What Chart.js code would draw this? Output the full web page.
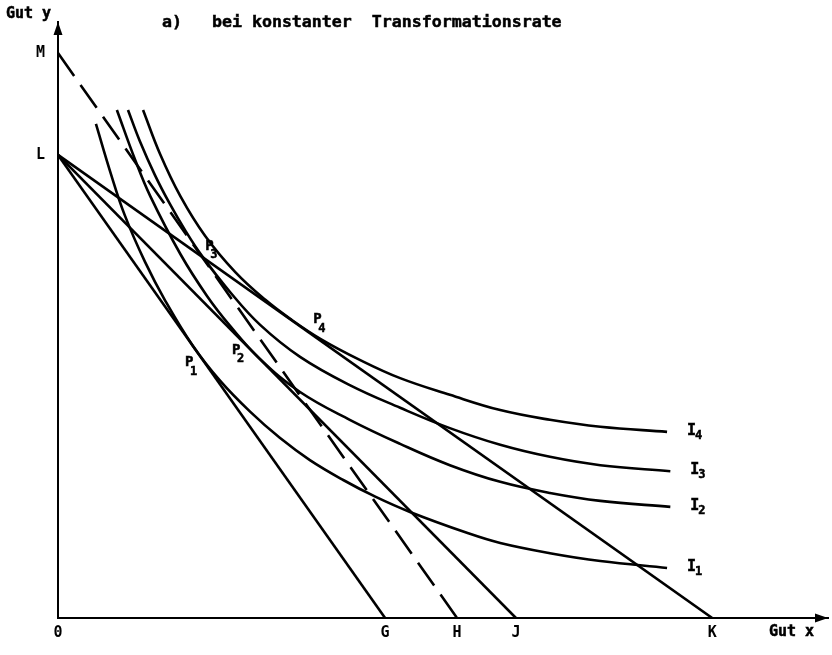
<!DOCTYPE html>
<html>
<head>
<meta charset="utf-8">
<script src="https://cdn.jsdelivr.net/npm/chart.js@4.4.1/dist/chart.umd.min.js"></script>
<style>
html, body { margin: 0; padding: 0; background: #fff; }
#wrap { width: 832px; height: 655px; }
</style>
</head>
<body>
<div id="wrap"><canvas id="chart"></canvas></div>
<script>
// axis marks
const xTickValues = [0, 50, 61, 70, 100];
const xTickLabels = ['0', 'G', 'H', 'J', 'K'];
const yTickValues = [100, 122];
const yTickLabels = ['L', 'M'];

// straight lines [start, end]
const lineLG = [[0, 100], [50, 0]];
const lineLJ = [[0, 100], [70, 0]];
const lineLK = [[0, 100], [100, 0]];
const lineMH = [[0, 122], [61, 0]];

// indifference curves I1..I4
const curveI1 = [[5.8,106.7],[8.0,96.3],[10.2,87.0],[13.3,76.9],[16.4,68.5],[20.6,58.8],[24.8,51.2],[29.4,44.5],[33.9,38.9],[38.5,34.1],[43.6,29.8],[48.5,26.2],[53.8,22.9],[62.5,18.4],[67.6,16.2],[75.2,14.0],[82.9,12.3],[93.1,10.8]];
const curveI2 = [[9.0,109.7],[11.8,98.9],[14.1,91.1],[18.7,78.6],[22.8,69.5],[26.3,63.1],[30.9,55.9],[37.0,48.8],[44.6,42.8],[52.3,37.6],[59.9,33.0],[67.6,29.4],[75.2,27.0],[82.9,25.3],[93.6,24.0]];
const curveI3 = [[10.7,109.7],[12.5,103.0],[14.8,95.7],[17.1,89.4],[19.4,83.8],[22.0,78.2],[26.3,70.4],[30.9,63.3],[37.0,56.4],[44.6,50.3],[52.3,45.4],[59.9,41.0],[67.6,37.4],[75.2,34.8],[82.9,33.0],[93.6,31.7]];
const curveI4 = [[13.0,109.7],[15.6,100.2],[18.7,91.1],[22.5,82.5],[27.1,74.7],[31.7,68.7],[35.5,64.6],[40.1,60.3],[46.2,55.7],[52.3,51.8],[59.9,48.2],[67.6,44.9],[75.2,42.8],[82.9,41.3],[93.1,40.2]];

const curves = [curveI1, curveI2, curveI3, curveI4];
const curveSubs = ['1', '2', '3', '4'];
const pointSubs = ['1', '2', '3', '4'];
// where the P labels sit (data units)
const pointLabelAt = [[19.4, 55.1], [26.6, 57.9], [22.5, 80.3], [39.0, 64.4]];

const FONT = '"DejaVu Sans Mono", monospace';
const toXY = arr => arr.map(p => ({x: p[0], y: p[1]}));

function straight(arr, dash) {
    return {
        data: toXY(arr), showLine: true, borderColor: '#000', borderWidth: 2.6,
        pointRadius: 0, borderDash: dash || [], borderCapStyle: 'butt'
    };
}

const datasets = [
    straight(lineLG), straight(lineLJ), straight(lineLK), straight(lineMH, [28, 11])
];
curves.forEach(c => {
    datasets.push({
        data: toXY(c), showLine: true, borderColor: '#000', borderWidth: 2.6,
        pointRadius: 0, tension: 0.4
    });
});

function txt(ctx, s, x, y, size) {
    ctx.font = 'bold ' + size + 'px ' + FONT;
    ctx.textAlign = 'left';
    ctx.textBaseline = 'middle';
    ctx.lineWidth = 0.5;
    ctx.strokeStyle = '#000';
    ctx.fillText(s, x, y);
    ctx.strokeText(s, x, y);
}

const decor = {
    id: 'decor',
    afterDraw(chart) {
        const ctx = chart.ctx;
        const a = chart.chartArea;
        const xs = chart.scales.x, ys = chart.scales.y;
        ctx.save();
        ctx.fillStyle = '#000';
        // arrow heads
        ctx.beginPath();
        ctx.moveTo(a.left, a.top);
        ctx.lineTo(a.left - 4.5, a.top + 13);
        ctx.lineTo(a.left + 4.5, a.top + 13);
        ctx.closePath();
        ctx.fill();
        ctx.beginPath();
        ctx.moveTo(a.right, a.bottom);
        ctx.lineTo(a.right - 13, a.bottom - 4.5);
        ctx.lineTo(a.right - 13, a.bottom + 4.5);
        ctx.closePath();
        ctx.fill();

        txt(ctx, 'Gut y', 6, 14, 15);
        txt(ctx, 'Gut x', 769, 632, 15);
        txt(ctx, 'a)   bei konstanter  Transformationsrate', 162, 23, 16.6);

        curves.forEach((c, i) => {
            const last = c[c.length - 1];
            const px = xs.getPixelForValue(last[0]) + 20;
            const py = ys.getPixelForValue(last[1]) - 1;
            txt(ctx, 'I', px, py, 15);
            txt(ctx, curveSubs[i], px + 8, py + 5, 12);
        });
        pointLabelAt.forEach((p, i) => {
            const px = xs.getPixelForValue(p[0]);
            const py = ys.getPixelForValue(p[1]);
            txt(ctx, 'P', px, py, 14);
            txt(ctx, pointSubs[i], px + 5, py + 9, 12);
        });
        ctx.restore();
    }
};

new Chart(document.getElementById('chart'), {
    type: 'scatter',
    data: { datasets: datasets },
    options: {
        responsive: true,
        maintainAspectRatio: false,
        animation: false,
        layout: { padding: { top: 22, right: 4, left: 0, bottom: 0 } },
        plugins: { legend: { display: false }, tooltip: { enabled: false } },
        scales: {
            x: {
                type: 'linear', min: 0, max: 117.7,
                grid: { display: false, drawTicks: false },
                border: { display: true, color: '#000', width: 2 },
                afterBuildTicks: s => { s.ticks = xTickValues.map(v => ({value: v})); },
                afterFit: s => { s.height = 37; },
                ticks: {
                    color: '#000', padding: 6, autoSkip: false, maxRotation: 0,
                    font: { family: FONT, size: 15, weight: 'bold' },
                    callback: v => xTickLabels[xTickValues.indexOf(v)]
                }
            },
            y: {
                type: 'linear', min: 0, max: 128.7,
                grid: { display: false, drawTicks: false },
                border: { display: true, color: '#000', width: 2 },
                afterBuildTicks: s => { s.ticks = yTickValues.map(v => ({value: v})); },
                afterFit: s => { s.width = 58; },
                ticks: {
                    color: '#000', padding: 13, autoSkip: false,
                    font: { family: FONT, size: 15, weight: 'bold' },
                    callback: v => yTickLabels[yTickValues.indexOf(v)]
                }
            }
        }
    },
    plugins: [decor]
});
</script>
</body>
</html>
